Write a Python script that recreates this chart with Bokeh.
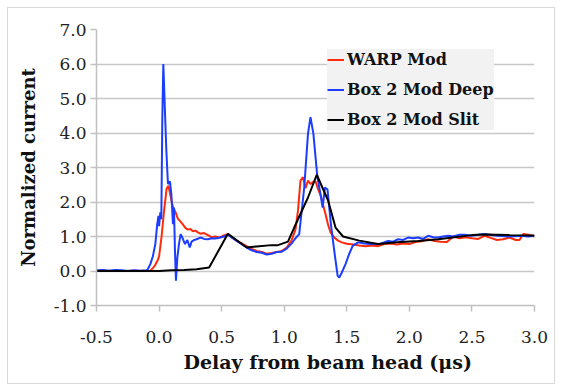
from bokeh.plotting import figure
from bokeh.models import Range1d, FixedTicker, Legend, LegendItem, Title
from bokeh.embed import file_html
from bokeh.resources import INLINE

# ---- data ----
warp_x = [-0.5, -0.4, -0.3, -0.2, -0.1, -0.07, -0.05, -0.03, -0.01, 0.0, 0.02, 0.04, 0.06, 0.075,
          0.09, 0.11, 0.13, 0.15, 0.17, 0.19, 0.21, 0.23, 0.25, 0.27, 0.29, 0.31, 0.33, 0.36, 0.39,
          0.42, 0.45, 0.48, 0.51, 0.55, 0.58, 0.62, 0.66, 0.70, 0.74, 0.78, 0.82, 0.86, 0.90, 0.94,
          0.98, 1.02, 1.06, 1.09, 1.11, 1.13, 1.15, 1.17, 1.19, 1.21, 1.23, 1.25, 1.27, 1.29, 1.31,
          1.33, 1.35, 1.37, 1.40, 1.43, 1.46, 1.50, 1.55, 1.60, 1.65, 1.70, 1.75, 1.80, 1.85, 1.90,
          1.95, 2.00, 2.05, 2.10, 2.15, 2.20, 2.25, 2.30, 2.35, 2.40, 2.45, 2.50, 2.55, 2.60, 2.65,
          2.70, 2.75, 2.80, 2.85, 2.88, 2.91, 2.95, 3.0]
warp_y = [0.0, 0.01, 0.0, 0.01, 0.0, 0.01, 0.08, 0.18, 0.32, 0.42, 1.0, 1.75, 2.38, 2.47,
          2.2, 1.86, 1.72, 1.52, 1.44, 1.35, 1.25, 1.2, 1.22, 1.15, 1.17, 1.12, 1.08, 1.1, 1.04,
          0.98, 1.0, 0.97, 1.02, 1.07, 0.98, 0.88, 0.8, 0.72, 0.64, 0.58, 0.55, 0.5, 0.52, 0.55,
          0.58, 0.68, 0.9, 1.2, 1.75, 2.62, 2.72, 2.4, 2.62, 2.52, 2.58, 2.6, 2.38, 2.2, 1.92,
          1.65, 1.35, 1.12, 0.97, 0.88, 0.83, 0.79, 0.77, 0.74, 0.72, 0.74, 0.72, 0.78, 0.8, 0.77,
          0.8, 0.78, 0.84, 0.86, 0.92, 0.87, 0.85, 0.84, 1.0, 0.95, 0.98, 0.95, 0.93, 1.02, 0.96,
          0.9, 0.92, 0.97, 0.9, 0.9, 1.07, 1.05, 1.0]

deep_x = [-0.5, -0.45, -0.4, -0.35, -0.3, -0.25, -0.2, -0.15, -0.1, -0.09, -0.07, -0.05, -0.03,
          -0.015, -0.005, 0.0, 0.01, 0.018, 0.026, 0.034, 0.044, 0.058, 0.071, 0.087, 0.098, 0.111,
          0.119, 0.127, 0.135, 0.146, 0.159, 0.172, 0.186, 0.207, 0.226, 0.245, 0.26, 0.28, 0.30,
          0.33, 0.36, 0.39, 0.42, 0.45, 0.49, 0.52, 0.55, 0.58, 0.62, 0.66, 0.70, 0.74, 0.78, 0.82,
          0.86, 0.90, 0.94, 0.98, 1.02, 1.06, 1.09, 1.12, 1.16, 1.19, 1.21, 1.233, 1.265, 1.29,
          1.307, 1.325, 1.346, 1.373, 1.40, 1.427, 1.44, 1.46, 1.49, 1.52, 1.547, 1.59, 1.64, 1.69,
          1.76, 1.83, 1.87, 1.91, 1.95, 1.99, 2.03, 2.07, 2.11, 2.15, 2.19, 2.23, 2.27, 2.31, 2.35,
          2.40, 2.44, 2.5, 2.55, 2.6, 2.7, 2.8, 2.9, 2.95, 3.0]
deep_y = [0.02, 0.03, 0.01, 0.03, 0.02, 0.0, 0.02, 0.01, 0.02, 0.05, 0.2, 0.42, 0.78,
          1.35, 1.6, 1.3, 1.7, 1.5, 4.46, 6.0, 4.95, 3.5, 2.52, 2.6, 2.23, 1.36,
          1.84, 0.58, -0.28, 0.39, 0.78, 1.07, 0.97, 0.78, 0.9, 0.68, 0.85, 0.9, 0.92,
          0.97, 0.93, 0.92, 0.95, 0.94, 0.97, 1.0, 1.05, 0.97, 0.87, 0.78, 0.68, 0.6, 0.55, 0.53,
          0.48, 0.5, 0.55, 0.56, 0.65, 0.8, 0.95, 1.07, 2.42, 3.98, 4.46, 3.98, 2.72, 2.23,
          1.84, 2.42, 2.36, 1.36, 0.58, -0.14, -0.19, -0.05, 0.2, 0.5, 0.73, 0.83, 0.8, 0.78,
          0.78, 0.87, 0.85, 0.92, 0.9, 0.97, 0.95, 0.97, 0.93, 1.02, 0.98, 0.97, 1.0, 1.02, 1.0,
          1.05, 1.05, 1.02, 1.05, 1.07, 1.02, 1.0, 1.02, 1.0, 1.02]

slit_x = [-0.5, -0.3, -0.1, 0.0, 0.1, 0.2, 0.3, 0.4, 0.55, 0.7, 0.8, 0.9, 0.95, 1.03, 1.08,
          1.19, 1.26, 1.35, 1.41, 1.47, 1.6, 1.75, 1.9, 2.07, 2.23, 2.5, 2.6, 2.8, 3.0]
slit_y = [0.0, 0.0, 0.0, 0.0, 0.02, 0.03, 0.05, 0.1, 1.08, 0.68, 0.72, 0.75, 0.75, 0.85, 1.26,
          2.13, 2.79, 2.05, 1.26, 1.0, 0.88, 0.78, 0.83, 0.87, 0.92, 1.04, 1.06, 1.04, 1.03]

series_names = ["WARP Mod", "Box 2 Mod Deep", "Box 2 Mod Slit"]
x_ticks = [-0.5, 0.0, 0.5, 1.0, 1.5, 2.0, 2.5, 3.0]
x_tick_labels = ["-0.5", "0.0", "0.5", "1.0", "1.5", "2.0", "2.5", "3.0"]
y_ticks = [-1, 0, 1, 2, 3, 4, 5, 6, 7]
y_tick_labels = ["-1.0", "0.0", "1.0", "2.0", "3.0", "4.0", "5.0", "6.0", "7.0"]
x_title = "Delay from beam head (μs)"
y_title = "Normalized current"

SERIF = "DejaVu Serif"

# figure occupies page x 7..555, y 7..384 ; frame page x 96..533, y 29..304
p = figure(width=548, height=377, output_backend="svg", toolbar_location=None,
           x_range=Range1d(-0.5, 3.0), y_range=Range1d(-1.0, 7.0),
           min_border_left=88, min_border_right=22, min_border_top=21, min_border_bottom=80,
           margin=(7, 0, 0, 7))
p.styles = {"border": "1px solid #d9d9d9", "box-sizing": "border-box"}
p.outline_line_color = None
p.background_fill_color = "white"
p.border_fill_color = "white"

# grids
p.xgrid.grid_line_color = None
p.ygrid.grid_line_color = "#c8c8c8"
p.ygrid.grid_line_width = 1.5

for ax in (p.xaxis, p.yaxis):
    ax.axis_line_color = "#c0c0c0"
    ax.axis_line_width = 1.5
    ax.major_tick_line_color = "#c0c0c0"
    ax.major_tick_line_width = 1.5
    ax.major_tick_in = 0
    ax.major_tick_out = 6
    ax.minor_tick_line_color = None
    ax.major_label_text_font = SERIF
    ax.major_label_text_font_size = "17px"
    ax.major_label_text_color = "#222222"
    ax.axis_label_text_font = SERIF
    ax.axis_label_text_font_style = "bold"
    ax.axis_label_text_color = "#111111"

p.xaxis.ticker = FixedTicker(ticks=x_ticks)
p.xaxis.major_label_overrides = {t: l for t, l in zip(x_ticks, x_tick_labels)}
p.yaxis.ticker = FixedTicker(ticks=y_ticks)
p.yaxis.major_label_overrides = {t: l for t, l in zip(y_ticks, y_tick_labels)}

p.xaxis.major_label_standoff = 19
p.yaxis.axis_label = y_title
p.yaxis.axis_label_text_font_size = "18px"
p.yaxis.major_label_standoff = 4
p.yaxis.axis_label_standoff = 12

p.add_layout(Title(text=x_title, align="left", offset=87, standoff=7,
                   text_font=SERIF, text_font_style="bold", text_font_size="19px",
                   text_color="#111111"), "below")

r_warp = p.line(warp_x, warp_y, line_color="#ff2a0a", line_width=2)
r_deep = p.line(deep_x, deep_y, line_color="#1a3dff", line_width=2)
r_slit = p.line(slit_x, slit_y, line_color="#000000", line_width=2)

legend = Legend(items=[LegendItem(label=series_names[0], renderers=[r_warp]),
                       LegendItem(label=series_names[1], renderers=[r_deep]),
                       LegendItem(label=series_names[2], renderers=[r_slit])],
                location=(231, 175))
legend.background_fill_color = "#f2f2f2"
legend.background_fill_alpha = 1.0
legend.border_line_color = None
legend.label_text_font = SERIF
legend.label_text_font_style = "bold"
legend.label_text_font_size = "16px"
legend.label_text_color = "#111111"
legend.glyph_width = 17
legend.glyph_height = 21
legend.label_height = 21
legend.label_standoff = 3
legend.spacing = 9
legend.padding = 8
legend.margin = 0
p.add_layout(legend, "center")

open("out.html", "w").write(file_html(p, INLINE))
